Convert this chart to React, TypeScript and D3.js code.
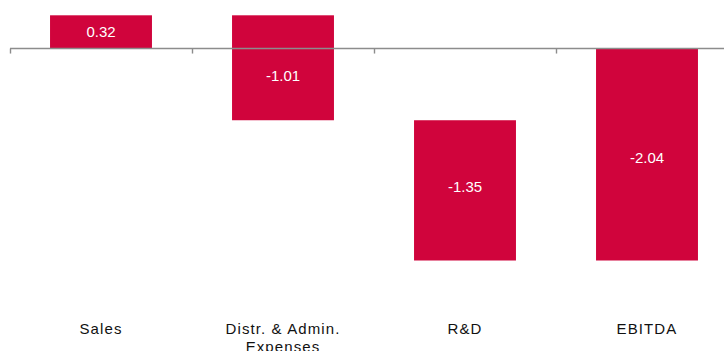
import * as d3 from "d3";
import { useEffect, useRef } from "react";

const categories = ["Sales", "Distr. & Admin. Expenses", "R&D", "EBITDA"];
const values = [0.32, -1.01, -1.35, -2.04];
const isTotal = [false, false, false, true];

export default function App() {
  const svgRef = useRef<SVGSVGElement>(null);

  const width = 724;
  const height = 351;

  useEffect(() => {
    const svg = d3.select(svgRef.current);
    svg.selectAll("*").remove();

    // running totals for the waterfall
    let run = 0;
    const steps = values.map((v, i) => {
      if (isTotal[i]) return { name: categories[i], v, y0: 0, y1: v };
      const s = { name: categories[i], v, y0: run, y1: run + v };
      run += v;
      return s;
    });

    const x = d3.scaleBand().domain(categories).range([10, 738]).paddingInner(0.44).paddingOuter(0.22);
    const band = d3.scaleBand().domain(categories).range([10, 738]);
    const y = d3.scaleLinear().domain([0.32, -2.04]).range([15.3, 260.5]);

    // the value labels in the original sit a little off the bar middle
    const labelShift = [0, 8, -4, 3.5];

    const g = svg.append("g");

    g.selectAll("rect.bar")
      .data(steps)
      .enter()
      .append("rect")
      .attr("class", "bar")
      .attr("x", (d) => x(d.name)!)
      .attr("width", x.bandwidth())
      .attr("y", (d) => y(Math.max(d.y0, d.y1)))
      .attr("height", (d) => Math.abs(y(d.y0) - y(d.y1)))
      .attr("fill", "#d0043c");

    // axis
    g.append("line")
      .attr("x1", 10)
      .attr("x2", width)
      .attr("y1", y(0))
      .attr("y2", y(0))
      .attr("stroke", "#8c8c8c")
      .attr("stroke-width", 1.6);

    g.selectAll("line.tick")
      .data(categories)
      .enter()
      .append("line")
      .attr("class", "tick")
      .attr("x1", (d) => band(d)! + 0.5)
      .attr("x2", (d) => band(d)! + 0.5)
      .attr("y1", y(0))
      .attr("y2", y(0) + 5)
      .attr("stroke", "#8c8c8c")
      .attr("stroke-width", 1.4);

    g.selectAll("text.val")
      .data(steps)
      .enter()
      .append("text")
      .attr("class", "val")
      .attr("x", (d) => x(d.name)! + x.bandwidth() / 2)
      .attr("y", (d, i) => (y(d.y0) + y(d.y1)) / 2 + labelShift[i])
      .attr("dy", "0.36em")
      .attr("text-anchor", "middle")
      .attr("fill", "white")
      .attr("font-family", "Liberation Sans, Arial, sans-serif")
      .attr("font-size", 15)
      .text((d) => d.v.toFixed(2));

    const labelLines: Record<string, string[]> = {
      "Distr. & Admin. Expenses": ["Distr. & Admin.", "Expenses"],
    };

    categories.forEach((c) => {
      const t = g
        .append("text")
        .attr("x", x(c)! + x.bandwidth() / 2)
        .attr("y", 333.5)
        .attr("text-anchor", "middle")
        .attr("fill", "#111")
        .attr("font-family", "Liberation Sans, Arial, sans-serif")
        .attr("font-size", 15)
        .attr("letter-spacing", 1.1);
      (labelLines[c] || [c]).forEach((line, i) => {
        t.append("tspan")
          .attr("x", x(c)! + x.bandwidth() / 2)
          .attr("dy", i === 0 ? 0 : 18.5)
          .text(line);
      });
    });
  }, []);

  return (
    <svg
      ref={svgRef}
      width={width}
      height={height}
      style={{ position: "absolute", left: 0, top: 0, background: "white" }}
    ></svg>
  );
}
